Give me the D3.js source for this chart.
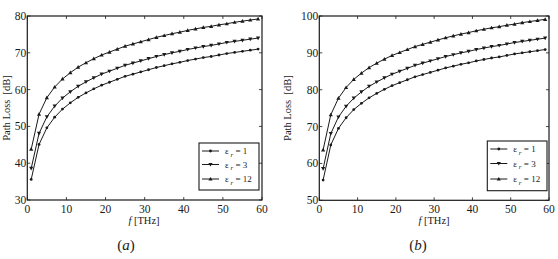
<!DOCTYPE html>
<html><head><meta charset="utf-8">
<script src="https://cdn.jsdelivr.net/npm/d3@7"></script>
<style>html,body{margin:0;padding:0;background:#fff;}svg{display:block;}</style>
</head><body>
<svg id="c" width="558" height="259"></svg>
<script>
const freqs = [1,3,5,7,9,11,13,15,17,19,21,23,25,27,29,31,33,35,37,39,41,43,45,47,49,51,53,55,57,59];
const a_eps1  = [35.6,45.1,49.6,52.5,54.7,56.4,57.9,59.1,60.2,61.2,62.0,62.8,63.6,64.2,64.8,65.4,66.0,66.5,67.0,67.4,67.9,68.3,68.7,69.0,69.4,69.8,70.1,70.4,70.7,71.0];
const a_eps3  = [38.6,48.1,52.6,55.5,57.7,59.4,60.9,62.1,63.2,64.2,65.0,65.8,66.6,67.2,67.8,68.4,69.0,69.5,70.0,70.4,70.9,71.3,71.7,72.0,72.4,72.8,73.1,73.4,73.7,74.0];
const a_eps12 = [43.8,53.3,57.8,60.7,62.9,64.6,66.1,67.3,68.4,69.4,70.2,71.0,71.8,72.4,73.0,73.6,74.2,74.7,75.2,75.6,76.1,76.5,76.9,77.2,77.6,77.9,78.3,78.6,78.9,79.2];
const b_eps1  = [55.5,65.0,69.5,72.4,74.6,76.3,77.8,79.0,80.1,81.1,81.9,82.7,83.5,84.1,84.7,85.3,85.9,86.4,86.9,87.3,87.8,88.2,88.6,88.9,89.3,89.7,90.0,90.3,90.6,90.9];
const b_eps3  = [58.6,68.1,72.6,75.5,77.7,79.4,80.9,82.1,83.2,84.2,85.0,85.8,86.6,87.2,87.8,88.4,89.0,89.5,90.0,90.4,90.9,91.3,91.7,92.0,92.4,92.8,93.1,93.4,93.7,94.0];
const b_eps12 = [63.7,73.2,77.7,80.6,82.8,84.5,86.0,87.2,88.3,89.3,90.1,90.9,91.7,92.3,92.9,93.5,94.1,94.6,95.1,95.5,96.0,96.4,96.8,97.1,97.5,97.8,98.2,98.5,98.8,99.1];
const xTicks = [0,10,20,30,40,50,60];
const a_yTicks = [30,40,50,60,70,80];
const b_yTicks = [50,60,70,80,90,100];
const epsLabels = ["1","3","12"];
const markerTypes = ["circle","down","up"];

const svg = d3.select("#c");
const serif = "'Liberation Serif','Times New Roman',serif";
const ink = "#1a1a1a";

function marker(g, type, x, y) {
  if (type === "circle") {
    g.append("circle").attr("cx", x).attr("cy", y).attr("r", 1.4).attr("fill", ink);
  } else {
    const s = 2.1;
    const pts = type === "up"
      ? [[x, y - s], [x - s, y + s*0.75], [x + s, y + s*0.75]]
      : [[x, y + s], [x - s, y - s*0.75], [x + s, y - s*0.75]];
    g.append("path").attr("d", "M" + pts.map(p => p.join(",")).join("L") + "Z").attr("fill", ink);
  }
}

function panel(opt) {
  const {L, R, T, B, yDomain, yTicks, series, ylabX, xlabX, capX, leg} = opt;
  const x = d3.scaleLinear().domain([0, 60]).range([L, R]);
  const y = d3.scaleLinear().domain(yDomain).range([B, T]);
  const g = svg.append("g");

  const tl = 3;
  xTicks.forEach(t => {
    g.append("line").attr("x1", x(t)).attr("x2", x(t)).attr("y1", B).attr("y2", B - tl).attr("stroke", ink).attr("stroke-width", 0.8);
    g.append("line").attr("x1", x(t)).attr("x2", x(t)).attr("y1", T).attr("y2", T + tl).attr("stroke", ink).attr("stroke-width", 0.8);
    g.append("text").attr("x", x(t)).attr("y", B + 13).attr("text-anchor", "middle")
      .attr("font-family", serif).attr("font-size", 11.5).attr("fill", ink).text(t);
  });
  yTicks.forEach(t => {
    g.append("line").attr("x1", L).attr("x2", L + tl).attr("y1", y(t)).attr("y2", y(t)).attr("stroke", ink).attr("stroke-width", 0.8);
    g.append("line").attr("x1", R).attr("x2", R - tl).attr("y1", y(t)).attr("y2", y(t)).attr("stroke", ink).attr("stroke-width", 0.8);
    g.append("text").attr("x", L - 1).attr("y", y(t) + 4).attr("text-anchor", "end")
      .attr("font-family", serif).attr("font-size", 11.5).attr("fill", ink).text(t);
  });

  const line = d3.line().x((d, i) => x(freqs[i])).y(d => y(d));
  series.forEach((s, k) => {
    g.append("path").attr("d", line(s)).attr("fill", "none").attr("stroke", ink).attr("stroke-width", 1);
    s.forEach((v, i) => marker(g, markerTypes[k], x(freqs[i]), y(v)));
  });

  g.append("rect").attr("x", L).attr("y", T).attr("width", R - L).attr("height", B - T)
    .attr("fill", "none").attr("stroke", ink).attr("stroke-width", 1.2);

  g.append("rect").attr("x", leg.x0).attr("y", leg.y0).attr("width", leg.x1 - leg.x0).attr("height", leg.y1 - leg.y0)
    .attr("fill", "#fff").attr("stroke", ink).attr("stroke-width", 1.1);
  leg.rows.forEach((ry, k) => {
    g.append("line").attr("x1", leg.x0 + 3).attr("x2", leg.x0 + 20).attr("y1", ry).attr("y2", ry).attr("stroke", ink).attr("stroke-width", 1);
    marker(g, markerTypes[k], leg.x0 + 11.5, ry);
    const t = g.append("text").attr("x", leg.x0 + 26).attr("y", ry + 3).attr("font-family", serif).attr("font-size", 9).attr("fill", ink);
    t.append("tspan").text("ε");
    t.append("tspan").attr("font-style", "italic").attr("font-size", 7).attr("dy", 2.5).text(" r");
    t.append("tspan").attr("dy", -2.5).text(" = " + epsLabels[k]);
  });

  g.append("text").attr("transform", `translate(${ylabX},${(T + B) / 2}) rotate(-90)`).attr("text-anchor", "middle")
    .attr("font-family", serif).attr("font-size", 10.5).attr("fill", ink).attr("xml:space", "preserve").text("Path Loss  [dB]");
  const xl = g.append("text").attr("x", xlabX).attr("y", B + 24).attr("text-anchor", "middle")
    .attr("font-family", serif).attr("font-size", 10.5).attr("fill", ink);
  xl.append("tspan").attr("font-style", "italic").text("f");
  xl.append("tspan").text(" [THz]");

  const cap = g.append("text").attr("x", capX).attr("y", 250).attr("text-anchor", "middle")
    .attr("font-family", serif).attr("font-size", 15).attr("fill", ink);
  cap.append("tspan").text("(");
  cap.append("tspan").attr("font-style", "italic").text(opt.cap);
  cap.append("tspan").text(")");
}

panel({L: 27.3, R: 262, T: 16, B: 200, yDomain: [30, 80], yTicks: a_yTicks,
  series: [a_eps1, a_eps3, a_eps12], ylabX: 10, xlabX: 144, capX: 126, cap: "a",
  leg: {x0: 199, x1: 259, y0: 143, y1: 190, rows: [151, 164.5, 179]}});
panel({L: 319.3, R: 549, T: 16, B: 200.3, yDomain: [50, 100], yTicks: b_yTicks,
  series: [b_eps1, b_eps3, b_eps12], ylabX: 291, xlabX: 434, capX: 418, cap: "b",
  leg: {x0: 487.3, x1: 547, y0: 141, y1: 190.7, rows: [149, 163.5, 179]}});
</script>
</body></html>
